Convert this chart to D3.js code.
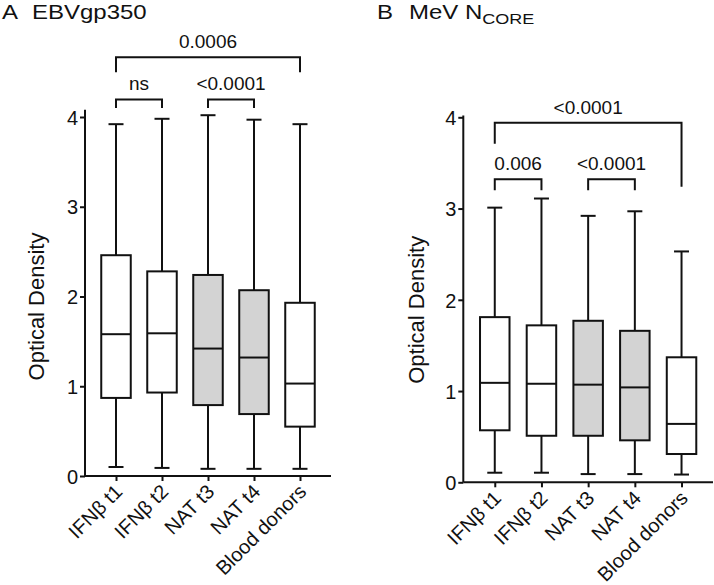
<!DOCTYPE html>
<html><head><meta charset="utf-8">
<script src="https://cdn.jsdelivr.net/npm/d3@7"></script>
<style>body{margin:0;background:#fff}svg{display:block;font-family:"Liberation Sans",Arial,sans-serif}</style>
</head><body>
<svg id="c" width="714" height="585"></svg>
<script>
const categories = ["IFNβ t1", "IFNβ t2", "NAT t3", "NAT t4", "Blood donors"];
const shaded = [false, false, true, true, false];
const yTicks = [0, 1, 2, 3, 4];

// Panel A: EBVgp350 — [min, q1, median, q3, max]
const aMin = [0.10, 0.09, 0.08, 0.08, 0.08];
const aQ1  = [0.87, 0.93, 0.79, 0.69, 0.55];
const aMed = [1.58, 1.59, 1.42, 1.32, 1.03];
const aQ3  = [2.46, 2.28, 2.24, 2.07, 1.93];
const aMax = [3.92, 3.98, 4.02, 3.97, 3.92];

// Panel B: MeV NCORE
const bMin = [0.105, 0.105, 0.09, 0.09, 0.085];
const bQ1  = [0.57, 0.51, 0.51, 0.46, 0.31];
const bMed = [1.09, 1.08, 1.07, 1.04, 0.64];
const bQ3  = [1.81, 1.72, 1.77, 1.66, 1.37];
const bMax = [3.01, 3.11, 2.92, 2.97, 2.53];

// significance brackets: [fromIndex, toIndex, label, barLevel, leftLegEnd, rightLegEnd] (OD units)
const aBrackets = [[0, 1, "ns", 4.195, 4.10, 4.10], [2, 3, "<0.0001", 4.195, 4.10, 4.10], [0, 4, "0.0006", 4.665, 4.50, 4.50]];
const bBrackets = [[0, 1, "0.006", 3.32, 3.20, 3.20], [2, 3, "<0.0001", 3.32, 3.20, 3.20], [0, 4, "<0.0001", 3.94, 3.71, 3.24]];

const svg = d3.select("#c");
const ink = "#111";

function panel(cfg) {
  const g = svg.append("g");
  const y = d3.scaleLinear().domain([0, 4]).range(cfg.yRange);
  const x = d3.scalePoint().domain(categories).range(cfg.xRange).padding(0.674);
  const boxW = 29.5, capW = 15;
  const data = categories.map((c, i) => ({c, i, min: cfg.min[i], q1: cfg.q1[i], med: cfg.med[i], q3: cfg.q3[i], max: cfg.max[i]}));
  const sw = 2;
  const bx = g.selectAll(".bx").data(data).join("g");
  bx.append("line").attr("x1", d => x(d.c)).attr("x2", d => x(d.c)).attr("y1", d => y(d.max)).attr("y2", d => y(d.q3)).attr("stroke", ink).attr("stroke-width", sw);
  bx.append("line").attr("x1", d => x(d.c)).attr("x2", d => x(d.c)).attr("y1", d => y(d.q1)).attr("y2", d => y(d.min)).attr("stroke", ink).attr("stroke-width", sw);
  bx.append("line").attr("x1", d => x(d.c) - capW / 2).attr("x2", d => x(d.c) + capW / 2).attr("y1", d => y(d.max)).attr("y2", d => y(d.max)).attr("stroke", ink).attr("stroke-width", sw);
  bx.append("line").attr("x1", d => x(d.c) - capW / 2).attr("x2", d => x(d.c) + capW / 2).attr("y1", d => y(d.min)).attr("y2", d => y(d.min)).attr("stroke", ink).attr("stroke-width", sw);
  bx.append("rect").attr("x", d => x(d.c) - boxW / 2).attr("width", boxW).attr("y", d => y(d.q3)).attr("height", d => y(d.q1) - y(d.q3))
    .attr("fill", d => shaded[d.i] ? "#d3d3d3" : "#fff").attr("stroke", ink).attr("stroke-width", sw);
  bx.append("line").attr("x1", d => x(d.c) - boxW / 2).attr("x2", d => x(d.c) + boxW / 2).attr("y1", d => y(d.med)).attr("y2", d => y(d.med)).attr("stroke", ink).attr("stroke-width", sw);

  // y axis
  const ya = g.append("g").attr("transform", `translate(${cfg.xRange[0]},0)`)
    .call(d3.axisLeft(y).tickValues(yTicks).tickFormat(d3.format("d")).tickSize(5).tickSizeOuter(0));
  ya.select(".domain").remove();
  ya.append("line").attr("x1", 0).attr("x2", 0).attr("y1", y(0)).attr("y2", y(cfg.yTop)).attr("stroke", ink).attr("stroke-width", sw);
  ya.selectAll(".tick line").attr("stroke", ink).attr("stroke-width", sw);
  ya.selectAll(".tick text").attr("font-size", 20).attr("fill", ink).attr("font-family", "Liberation Sans, Arial, sans-serif").attr("x", -7).attr("dy", "0.36em");

  // x axis
  const xa = g.append("g").attr("transform", `translate(0,${y(0)})`)
    .call(d3.axisBottom(x).tickSize(5).tickSizeOuter(0));
  xa.select(".domain").attr("stroke", ink).attr("stroke-width", sw).attr("d", `M${cfg.xRange[0]},0H${cfg.xRange[1]}`);
  xa.selectAll(".tick line").attr("stroke", ink).attr("stroke-width", sw);
  xa.selectAll(".tick text").attr("font-size", 20).attr("fill", ink).attr("font-family", "Liberation Sans, Arial, sans-serif")
    .attr("text-anchor", "end").attr("y", 0).attr("dy", 0)
    .attr("transform", "translate(7,17) rotate(-45)");

  // y label
  g.append("text").attr("transform", `translate(${cfg.labelX},${(y(0) + y(4)) / 2 + 10}) rotate(-90)`)
    .attr("text-anchor", "middle").attr("font-size", 22).attr("fill", ink).text("Optical Density");

  // brackets
  cfg.brackets.forEach(b => {
    const x1 = x(categories[b[0]]), x2 = x(categories[b[1]]);
    g.append("path").attr("d", `M${x1},${y(b[4])}V${y(b[3])}H${x2}V${y(b[5])}`)
      .attr("fill", "none").attr("stroke", ink).attr("stroke-width", sw);
    g.append("text").attr("x", (x1 + x2) / 2).attr("y", y(b[3]) - 9).attr("text-anchor", "middle")
      .attr("font-size", 19).attr("fill", ink).text(b[2]);
  });
}

panel({yRange: [476, 117], xRange: [85, 331], yTop: 4.08, min: aMin, q1: aQ1, med: aMed, q3: aQ3, max: aMax, brackets: aBrackets, labelX: 44});
panel({yRange: [482.3, 117.3], xRange: [463.3, 713], yTop: 4.02, min: bMin, q1: bQ1, med: bMed, q3: bQ3, max: bMax, brackets: bBrackets, labelX: 424});

// titles (horizontally widened to match the reference lettering)
const sx = 1.2;
const tg = svg.append("g").attr("transform", `translate(0,18.5) scale(${sx},1)`);
tg.append("text").attr("x", 2 / sx).attr("y", 0).attr("font-size", 20).attr("fill", ink).text("A");
tg.append("text").attr("x", 32 / sx).attr("y", 0).attr("font-size", 20).attr("fill", ink).text("EBVgp350");
tg.append("text").attr("x", 377 / sx).attr("y", 0).attr("font-size", 20).attr("fill", ink).text("B");
const tb = tg.append("text").attr("x", 409 / sx).attr("y", 0).attr("font-size", 20).attr("fill", ink);
tb.append("tspan").text("MeV N");
tb.append("tspan").attr("font-size", 15).attr("dy", 5.5).text("CORE");
</script>
</body></html>
